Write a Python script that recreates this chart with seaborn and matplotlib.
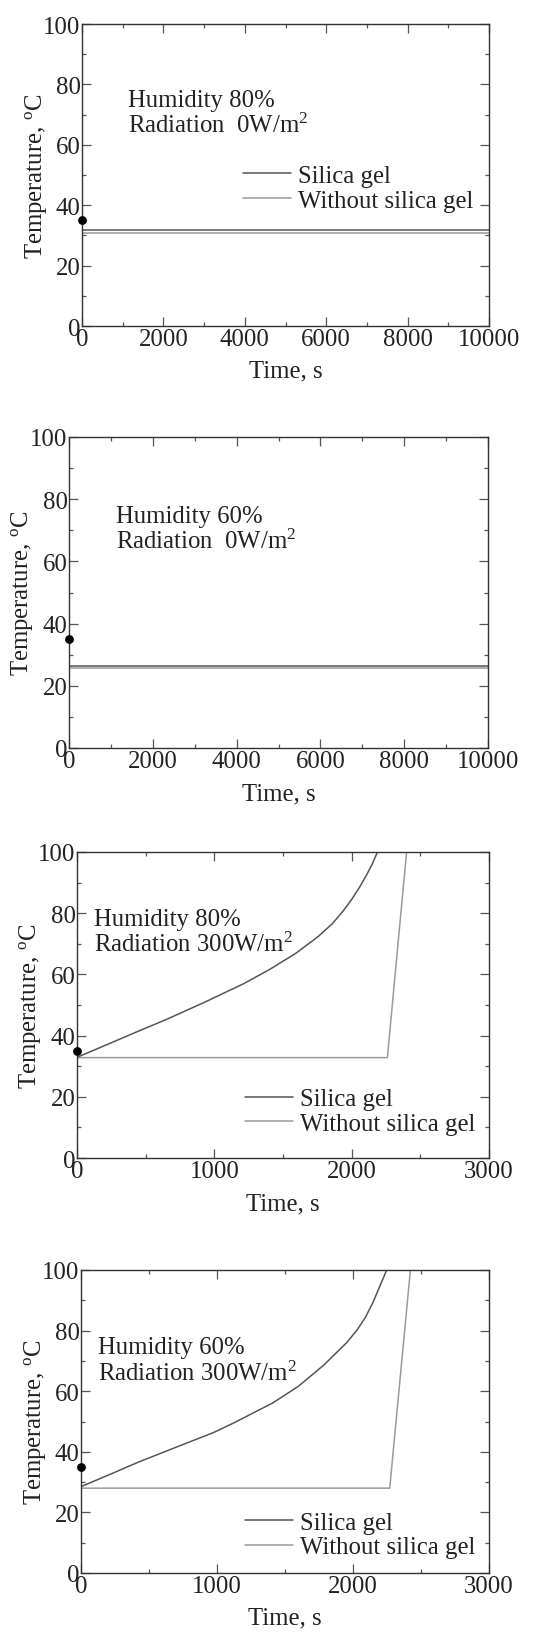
import matplotlib
matplotlib.use("Agg")
import matplotlib.pyplot as plt
from matplotlib.ticker import MultipleLocator
import numpy as np
import pandas as pd
import seaborn as sns

# ---------------- data ----------------
# Panel 1: Humidity 80 %, Radiation 0 W/m2
p1_time = [0, 10000]
p1_silica = [31.7, 31.7]
p1_without = [30.9, 30.9]

# Panel 2: Humidity 60 %, Radiation 0 W/m2
p2_time = [0, 10000]
p2_silica = [26.5, 26.5]
p2_without = [25.8, 25.8]

# Panel 3: Humidity 80 %, Radiation 300 W/m2
p3_silica_time = [0, 200, 418, 652, 934, 1215, 1402, 1590, 1754, 1860, 1941, 2000, 2059, 2110, 2150, 2188]
p3_silica_temp = [32.9, 36.7, 40.9, 45.3, 51.0, 57.0, 61.6, 66.8, 72.3, 76.6, 80.9, 84.5, 88.6, 92.6, 96.1, 100.0]
p3_without_time = [0, 2260, 2400]
p3_without_temp = [32.8, 32.8, 100.0]

# Panel 4: Humidity 60 %, Radiation 300 W/m2
p4_silica_time = [0, 200, 417, 772, 972, 1126, 1409, 1598, 1787, 1953, 2030, 2094, 2150, 2189, 2248]
p4_silica_temp = [28.5, 32.3, 36.5, 42.8, 46.3, 49.6, 56.1, 61.6, 68.7, 76.0, 80.2, 84.6, 89.6, 93.8, 100.0]
p4_without_time = [0, 2270, 2422]
p4_without_temp = [28.0, 28.0, 100.0]

initial_time = [0]
initial_temp = [35]

series_labels = ["Silica gel", "Without silica gel"]
panel_texts = [
    ("Humidity 80%", "Radiation  0W/m$^{2}$"),
    ("Humidity 60%", "Radiation  0W/m$^{2}$"),
    ("Humidity 80%", "Radiation 300W/m$^{2}$"),
    ("Humidity 60%", "Radiation 300W/m$^{2}$"),
]
x_label = "Time, s"
y_label = "Temperature, $^{\\mathrm{o}}$C"

# ---------------- style ----------------
sns.set_theme(style="ticks")
FS = 17.8
plt.rcParams.update({
    "font.family": ["Liberation Serif", "DejaVu Serif"],
    "mathtext.fontset": "custom",
    "mathtext.rm": "Liberation Serif",
    "mathtext.it": "Liberation Serif:italic",
    "mathtext.bf": "Liberation Serif:bold",
    "font.size": FS,
    "axes.labelsize": FS,
    "xtick.labelsize": FS,
    "ytick.labelsize": FS,
    "legend.fontsize": FS,
    "axes.linewidth": 1.0,
    "axes.edgecolor": "#333333",
    "axes.labelcolor": "#222222",
    "text.color": "#222222",
    "xtick.direction": "in",
    "ytick.direction": "in",
    "xtick.top": True,
    "ytick.right": True,
    "xtick.major.size": 6.5,
    "ytick.major.size": 6.5,
    "xtick.minor.size": 3.2,
    "ytick.minor.size": 3.2,
    "xtick.major.width": 0.9,
    "ytick.major.width": 0.9,
    "xtick.minor.width": 0.9,
    "ytick.minor.width": 0.9,
    "xtick.color": "#555555",
    "ytick.color": "#555555",
    "xtick.labelcolor": "#222222",
    "ytick.labelcolor": "#222222",
    "xtick.major.pad": 1.5,
    "ytick.major.pad": 1.0,
})

C_SILICA = "#555555"
C_WITHOUT = "#9a9a9a"

fig = plt.figure(figsize=(5.45, 16.33), dpi=100)
W, H = 545.0, 1633.0

panels = [
    dict(rect=(82, 25, 489, 327), xmax=10000, xmaj=2000,
         s=(p1_time, p1_silica), w=(p1_time, p1_without),
         text_xy=(0.112, 0.727, 0.641), legend=(0.396, 0.457)),
    dict(rect=(69, 438, 488, 749), xmax=10000, xmaj=2000,
         s=(p2_time, p2_silica), w=(p2_time, p2_without),
         text_xy=(0.112, 0.728, 0.643), legend=None),
    dict(rect=(77, 853, 489, 1159), xmax=3000, xmaj=1000,
         s=(p3_silica_time, p3_silica_temp), w=(p3_without_time, p3_without_temp),
         text_xy=(0.042, 0.761, 0.676), legend=(0.408, 0.152)),
    dict(rect=(81, 1271, 489, 1574), xmax=3000, xmaj=1000,
         s=(p4_silica_time, p4_silica_temp), w=(p4_without_time, p4_without_temp),
         text_xy=(0.041, 0.725, 0.638), legend=(0.402, 0.126)),
]

for i, p in enumerate(panels):
    l, t, r, b = p["rect"]
    ax = fig.add_axes([l / W, (H - b) / H, (r - l) / W, (b - t) / H])

    sns.lineplot(x=p["w"][0], y=p["w"][1], ax=ax, color=C_WITHOUT, lw=1.1,
                 estimator=None, sort=False)
    h_without = ax.lines[-1]
    sns.lineplot(x=p["s"][0], y=p["s"][1], ax=ax, color=C_SILICA, lw=1.1,
                 estimator=None, sort=False)
    h_silica = ax.lines[-1]
    sns.scatterplot(x=initial_time, y=initial_temp, ax=ax, color="black", s=40,
                    edgecolor="black", linewidth=0, zorder=6, clip_on=False)

    ax.set_xlim(0, p["xmax"])
    ax.set_ylim(0, 100)
    ax.xaxis.set_major_locator(MultipleLocator(p["xmaj"]))
    ax.xaxis.set_minor_locator(MultipleLocator(p["xmaj"] / 2))
    ax.yaxis.set_major_locator(MultipleLocator(20))
    ax.yaxis.set_minor_locator(MultipleLocator(10))
    ax.tick_params(which="both", top=True, right=True)

    ax.set_xlabel(x_label)
    ax.set_ylabel(y_label)
    ax.xaxis.set_label_coords(0.5, -0.112)
    ax.yaxis.set_label_coords(-0.082, 0.5)

    tx, ty1, ty2 = p["text_xy"]
    line1, line2 = panel_texts[i]
    ax.text(tx, ty1, line1, transform=ax.transAxes, ha="left", va="baseline", fontsize=FS)
    ax.text(tx, ty2, line2, transform=ax.transAxes, ha="left", va="baseline", fontsize=FS)

    if ax.get_legend() is not None:
        ax.get_legend().remove()
    if p["legend"] is not None:
        lx, ly = p["legend"]
        ax.legend([h_silica, h_without], series_labels, loc="center left",
                  bbox_to_anchor=(lx, ly), frameon=False, handlelength=1.94,
                  handletextpad=0.28, labelspacing=0.1, borderpad=0,
                  borderaxespad=0)

fig.savefig("out.png", dpi=100)
